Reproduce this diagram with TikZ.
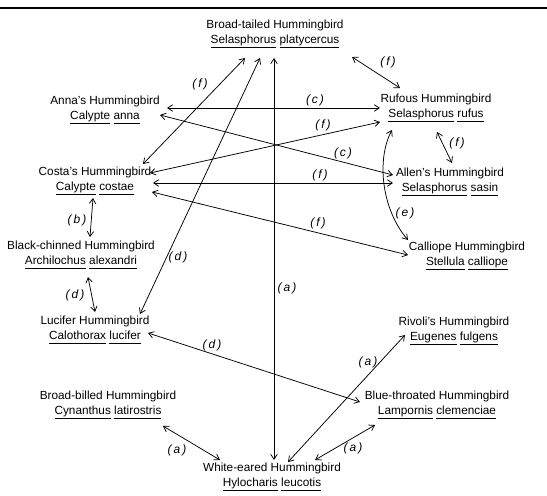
\documentclass[tikz,border=0pt]{standalone}
\usepackage{fontspec}
\setmainfont{Liberation Sans}
\usetikzlibrary{calc, arrows.meta}

\newcommand{\sci}[1]{\underline{#1\vphantom{y}}}

\begin{document}
\begin{tikzpicture}[
  x=1pt, y=-1pt,
  >={Straight Barb[length=5pt,width=6.5pt]},
  bird/.style={align=center, inner sep=0pt, font=\fontsize{11.8}{14.5}\selectfont},
  link/.style={<->, line width=0.75pt},
  tag/.style={font=\itshape\fontsize{12}{13}\selectfont},
]
\useasboundingbox (0,0) rectangle (547,496);

% ---------- top rule ----------
\draw[line width=1.4pt] (0,8) -- (547,8);

% ---------- birds ----------
\node[bird] (bt) at (275,34) {Broad-tailed Hummingbird\\\sci{Selasphorus} \sci{platycercus}};
\node[bird] (anna) at (105,110) {Anna's Hummingbird\\\sci{Calypte} \sci{anna}};
\node[bird] (rufous) at (436,108) {Rufous Hummingbird\\\sci{Selasphorus} \sci{rufus}};
\node[bird] (costa) at (95,181) {Costa's Hummingbird\\\sci{Calypte} \sci{costae}};
\node[bird] (allen) at (450,182) {Allen's Hummingbird\\\sci{Selasphorus} \sci{sasin}};
\node[bird] (blackchin) at (81,255) {Black-chinned Hummingbird\\\sci{Archilochus} \sci{alexandri}};
\node[bird] (calliope) at (467,256) {Calliope Hummingbird\\\sci{Stellula} \sci{calliope}};
\node[bird] (lucifer) at (95,330) {Lucifer Hummingbird\\\sci{Calothorax} \sci{lucifer}};
\node[bird] (rivoli) at (454,331) {Rivoli's Hummingbird\\\sci{Eugenes} \sci{fulgens}};
\node[bird] (broadbill) at (108,405) {Broad-billed Hummingbird\\\sci{Cynanthus} \sci{latirostris}};
\node[bird] (bluethroat) at (437,405) {Blue-throated Hummingbird\\\sci{Lampornis} \sci{clemenciae}};
\node[bird] (whiteear) at (272,477) {White-eared Hummingbird\\\sci{Hylocharis} \sci{leucotis}};

% ---------- links ----------
\draw[link] ($(bt)+(-30,24)$) -- ($(costa)+(48,-17)$);
\draw[link] ($(bt)+(-15,24)$) -- ($(lucifer)+(45,-16)$);
\draw[link] ($(bt)+(-1,24)$) -- ($(whiteear)+(2,-17)$);
\draw[link] ($(bt)+(77,23)$) -- ($(rufous)+(-36,-20)$);
\draw[link] ($(anna)+(62,-2)$) -- ($(rufous)+(-56,0)$);
\draw[link] ($(anna)+(55,5)$) -- ($(allen)+(-57,-7)$);
\draw[link] ($(costa)+(55,-8)$) -- ($(rufous)+(-56,14)$);
\draw[link] ($(costa)+(58,2)$) -- ($(allen)+(-57,1)$);
\draw[link] ($(costa)+(57,11)$) -- ($(calliope)+(-59,-1)$);
\draw[link] ($(costa)+(-2,17)$) -- ($(blackchin)+(9,-18)$);
\draw[link] ($(rufous)+(1,24)$) -- ($(allen)+(2,-19)$);
\draw[link] ($(rufous)+(-44,22)$)
  .. controls ($(rufous)+(-60,52)$) and ($(calliope)+(-85,-46)$) .. ($(calliope)+(-59,-16)$);
\draw[link] ($(blackchin)+(7,22)$) -- ($(lucifer)+(0,-18)$);
\draw[link] ($(lucifer)+(53,3)$) -- ($(bluethroat)+(-77,-3)$);
\draw[link] ($(whiteear)+(16,-15)$) -- ($(rivoli)+(-49,4)$);
\draw[link] ($(whiteear)+(43,-17)$) -- ($(bluethroat)+(-62,20)$);
\draw[link] ($(whiteear)+(-52,-17)$) -- ($(broadbill)+(55,21)$);

% ---------- link tags ----------
\node[tag] (tF1) at (200,84) {(\,f\,)};
\node[tag] (tD1) at (178,257) {(\,d\,)};
\node[tag] (tA1) at (287,288) {(\,a\,)};
\node[tag] (tF2) at (388,62) {(\,f\,)};
\node[tag] (tC1) at (315,100) {(\,c\,)};
\node[tag] (tF3) at (323,125) {(\,f\,)};
\node[tag] (tC2) at (343,153) {(\,c\,)};
\node[tag] (tF4) at (457,143) {(\,f\,)};
\node[tag] (tF5) at (320,175) {(\,f\,)};
\node[tag] (tE1) at (405,213) {(\,e\,)};
\node[tag] (tF6) at (318,223) {(\,f\,)};
\node[tag] (tB1) at (77,220) {(\,b\,)};
\node[tag] (tD2) at (75,295) {(\,d\,)};
\node[tag] (tD3) at (212,345) {(\,d\,)};
\node[tag] (tA2) at (368,362) {(\,a\,)};
\node[tag] (tA3) at (353,448) {(\,a\,)};
\node[tag] (tA4) at (177,450) {(\,a\,)};

\end{tikzpicture}
\end{document}
